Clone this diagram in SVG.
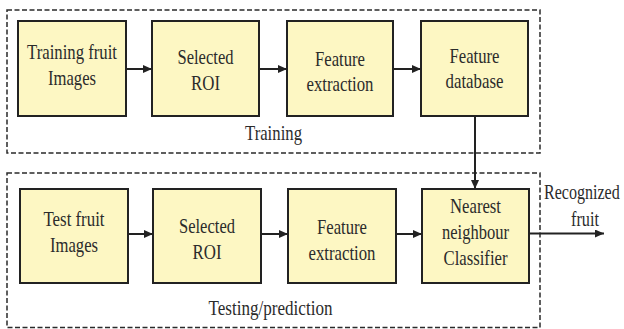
<svg xmlns="http://www.w3.org/2000/svg" width="624" height="329" viewBox="0 0 624 329">
<style>
.frame{fill:none;stroke:#2a2a2a;stroke-width:1.5;stroke-dasharray:5 2.5}
.box{fill:#fdf7c3;stroke:#222;stroke-width:2}
.t{font-family:'Liberation Serif','Times New Roman',serif;font-size:22px;fill:#2b2b2b;text-anchor:middle}
.tl{font-family:'Liberation Serif','Times New Roman',serif;font-size:22px;fill:#2b2b2b}
.c{fill:none;stroke:#222;stroke-width:2}
</style>
<defs>
<marker id="ah" markerUnits="userSpaceOnUse" markerWidth="10" markerHeight="10" refX="9" refY="4" orient="auto">
<path d="M0,0 L9,4 L0,8 z" fill="#222"/>
</marker>
</defs>
<rect width="624" height="329" fill="#fff"/>
<g id="training-frame">
<rect class="frame" x="7" y="10" width="533" height="143"/>
<text class="t" x="273.5" y="140" textLength="57" lengthAdjust="spacingAndGlyphs">Training</text>
</g>
<g id="testing-frame">
<rect class="frame" x="7" y="173" width="533" height="154.5"/>
<text class="t" x="270.5" y="315" textLength="124" lengthAdjust="spacingAndGlyphs">Testing/prediction</text>
</g>
<g id="training-images">
<rect class="box" x="18" y="21" width="108" height="95"/>
<text class="t" x="72" y="59" textLength="90" lengthAdjust="spacingAndGlyphs">Training fruit</text>
<text class="t" x="72" y="85" textLength="48" lengthAdjust="spacingAndGlyphs">Images</text>
</g>
<g id="train-roi">
<rect class="box" x="152" y="21" width="107" height="95"/>
<text class="t" x="205.5" y="64" textLength="56" lengthAdjust="spacingAndGlyphs">Selected</text>
<text class="t" x="205.5" y="90" textLength="29" lengthAdjust="spacingAndGlyphs">ROI</text>
</g>
<g id="train-feature">
<rect class="box" x="287" y="21" width="106" height="95"/>
<text class="t" x="340" y="66" textLength="50" lengthAdjust="spacingAndGlyphs">Feature</text>
<text class="t" x="340" y="91" textLength="67" lengthAdjust="spacingAndGlyphs">extraction</text>
</g>
<g id="feature-db">
<rect class="box" x="421" y="21" width="107" height="95"/>
<text class="t" x="474.5" y="62.5" textLength="50" lengthAdjust="spacingAndGlyphs">Feature</text>
<text class="t" x="474.5" y="88" textLength="58" lengthAdjust="spacingAndGlyphs">database</text>
</g>
<g id="test-images">
<rect class="box" x="20" y="189" width="108" height="94"/>
<text class="t" x="74" y="225.5" textLength="61" lengthAdjust="spacingAndGlyphs">Test fruit</text>
<text class="t" x="74" y="251.5" textLength="48" lengthAdjust="spacingAndGlyphs">Images</text>
</g>
<g id="test-roi">
<rect class="box" x="153" y="189" width="108" height="94"/>
<text class="t" x="207" y="233" textLength="56" lengthAdjust="spacingAndGlyphs">Selected</text>
<text class="t" x="207" y="259" textLength="29" lengthAdjust="spacingAndGlyphs">ROI</text>
</g>
<g id="test-feature">
<rect class="box" x="288" y="189" width="108" height="94"/>
<text class="t" x="342" y="234" textLength="50" lengthAdjust="spacingAndGlyphs">Feature</text>
<text class="t" x="342" y="260" textLength="67" lengthAdjust="spacingAndGlyphs">extraction</text>
</g>
<g id="classifier">
<rect class="box" x="422" y="189" width="107" height="94"/>
<text class="t" x="475.5" y="213" textLength="51" lengthAdjust="spacingAndGlyphs">Nearest</text>
<text class="t" x="475.5" y="239" textLength="67" lengthAdjust="spacingAndGlyphs">neighbour</text>
<text class="t" x="475.5" y="265" textLength="64" lengthAdjust="spacingAndGlyphs">Classifier</text>
</g>
<g id="output-label">
<text class="tl" x="0" y="199" transform="translate(544 0) scale(0.73 1)">Recognized</text>
<text class="tl" x="571" y="226" textLength="28" lengthAdjust="spacingAndGlyphs">fruit</text>
</g>
<g id="connectors">
<line class="c" x1="126" y1="69" x2="152" y2="69" marker-end="url(#ah)"/>
<line class="c" x1="259" y1="69" x2="287" y2="69" marker-end="url(#ah)"/>
<line class="c" x1="393" y1="69" x2="421" y2="69" marker-end="url(#ah)"/>
<line class="c" x1="475" y1="116" x2="475" y2="189" marker-end="url(#ah)"/>
<line class="c" x1="128" y1="234" x2="153" y2="234" marker-end="url(#ah)"/>
<line class="c" x1="261" y1="234" x2="288" y2="234" marker-end="url(#ah)"/>
<line class="c" x1="396" y1="234" x2="422" y2="234" marker-end="url(#ah)"/>
<line class="c" x1="529" y1="233.5" x2="604" y2="233.5" marker-end="url(#ah)"/>
</g>
</svg>
